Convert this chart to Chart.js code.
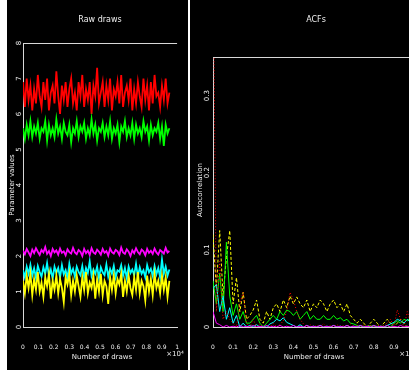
<!DOCTYPE html>
<html>
<head>
<meta charset="utf-8">
<script src="https://cdn.jsdelivr.net/npm/chart.js@4"></script>
<style>
  html, body { margin: 0; padding: 0; width: 409px; height: 370px; overflow: hidden; background: #fff; }
  .panel { position: absolute; top: 0; height: 370px; background: #000; overflow: hidden; }
  #leftPanel { left: 7px; width: 181px; }
  #rightPanel { left: 190px; width: 219px; }
  canvas { position: absolute; top: 0; left: 0; }
</style>
</head>
<body>
<div class="panel" id="leftPanel"><canvas id="drawsChart" width="181" height="370"></canvas></div>
<div class="panel" id="rightPanel"><canvas id="acfChart" width="240" height="370"></canvas></div>
<script>
// tick labels
const xTicks = [0, 0.1, 0.2, 0.3, 0.4, 0.5, 0.6, 0.7, 0.8, 0.9, 1];
const leftYTicks = [0, 1, 2, 3, 4, 5, 6, 7, 8];
const rightYTicks = [0, 0.1, 0.2, 0.3];

// raw draws (x in units of 10^4 draws)
const drawsEnd = 0.95;
const redDraws = [6.9,6.2,7.0,6.4,6.8,6.1,6.7,6.3,7.1,6.5,6.2,6.9,6.4,7.0,6.1,6.6,6.8,6.3,7.2,6.5,6.0,6.8,6.4,6.9,6.2,6.7,7.0,6.3,6.6,6.1,6.9,6.5,7.1,6.2,6.7,6.4,6.9,6.0,6.8,6.5,7.3,6.3,6.6,6.9,6.2,6.8,6.4,7.0,6.1,6.7,6.5,6.9,6.3,7.1,6.2,6.6,6.8,6.4,7.0,6.1,6.7,6.3,6.9,6.5,6.2,7.0,6.4,6.8,6.1,6.9,6.3,7.1,6.5,6.6,6.2,6.8,6.4,7.0,6.3,6.6];
const greenDraws = [5.6,5.3,5.7,5.4,5.8,5.35,5.65,5.45,5.75,5.3,5.6,5.5,5.8,5.25,5.7,5.4,5.6,5.35,5.85,5.45,5.65,5.3,5.75,5.5,5.4,5.7,5.2,5.6,5.45,5.8,5.35,5.65,5.5,5.75,5.3,5.6,5.4,5.85,5.45,5.7,5.25,5.6,5.5,5.75,5.35,5.65,5.4,5.8,5.3,5.6,5.45,5.7,5.2,5.65,5.5,5.8,5.35,5.6,5.4,5.75,5.3,5.7,5.45,5.6,5.35,5.8,5.5,5.65,5.25,5.7,5.4,5.6,5.5,5.75,5.3,5.65,5.1,5.7,5.45,5.6];
const magentaDraws = [2.15,2.05,2.2,2.1,2.0,2.18,2.08,2.22,2.12,2.03,2.17,2.1,2.25,2.06,2.14,2.0,2.2,2.1,2.16,2.04,2.21,2.09,2.13,2.02,2.19,2.11,2.07,2.23,2.1,2.05,2.17,2.12,2.0,2.2,2.08,2.15,2.03,2.22,2.1,2.06,2.18,2.12,2.04,2.2,2.09,2.14,2.01,2.21,2.11,2.07,2.17,2.13,2.03,2.24,2.1,2.06,2.19,2.12,2.0,2.16,2.08,2.22,2.11,2.05,2.18,2.13,2.02,2.2,2.09,2.15,2.06,2.21,2.1,2.04,2.17,2.12,2.07,2.23,2.1,2.14];
const cyanDraws = [1.6,1.4,1.7,1.5,1.75,1.45,1.65,1.38,1.72,1.55,1.42,1.68,1.5,1.8,1.44,1.62,1.36,1.7,1.52,1.66,1.4,1.74,1.48,1.6,1.38,1.78,1.5,1.64,1.42,1.7,1.55,1.46,1.72,1.4,1.66,1.52,1.85,1.44,1.62,1.5,1.7,1.38,1.68,1.54,1.46,1.76,1.42,1.64,1.5,1.72,1.4,1.6,1.56,1.74,1.44,1.66,1.38,1.7,1.52,1.62,1.46,1.78,1.42,1.68,1.5,1.6,1.4,1.74,1.54,1.64,1.44,1.72,1.48,1.66,1.4,1.9,1.5,1.7,1.45,1.62];
const yellowDraws = [1.3,0.95,1.45,1.1,1.5,0.9,1.35,1.05,1.55,1.0,1.25,0.85,1.4,1.15,1.5,0.8,1.3,1.05,1.45,0.95,1.35,1.1,0.7,1.4,1.2,1.5,0.9,1.3,1.0,1.45,1.15,0.85,1.4,1.05,1.55,0.95,1.25,1.1,1.45,0.8,1.35,1.0,1.5,0.9,1.3,1.15,0.65,1.4,1.05,1.45,0.95,1.35,1.2,1.5,0.85,1.3,1.0,1.45,1.1,0.9,1.4,1.05,1.55,0.95,1.3,1.15,0.75,1.45,1.0,1.35,0.9,1.5,1.1,1.3,0.95,1.45,1.05,1.4,0.85,1.3];

// autocorrelations (lag in units of 10^4)
const lagEnd = 1;
const redAcf = [0.5,0.02,0.085,0.01,0.02,0.01,0.005,0.0,0.03,0.045,0.005,0.0,0.01,0.0,0.004,0.0,0.002,0.0,0.005,0.0,0.003,0.008,0.02,0.045,0.035,0.02,0.01,0.004,0.0,0.003,0.0,0.002,0.0,0.004,0.0,0.002,0.0,0.003,0.0,0.002,0.0,0.004,0.0,0.002,0.0,0.003,0.0,0.002,0.0,0.003,0.0,0.002,0.005,0.01,0.0,0.022,0.01,0.0,0.02,0.005,0.0];
const yellowAcf = [0.12,0.05,0.125,0.04,0.09,0.125,0.03,0.064,0.02,0.045,0.01,0.015,0.022,0.035,0.01,0.005,0.02,0.01,0.025,0.03,0.02,0.035,0.025,0.04,0.03,0.039,0.03,0.025,0.035,0.02,0.03,0.025,0.035,0.03,0.02,0.03,0.035,0.025,0.03,0.02,0.03,0.015,0.01,0.005,0.01,0.005,0.0,0.005,0.01,0.005,0.0,0.005,0.01,0.005,0.0,0.005,0.01,0.005,0.0,0.005,0.0];
const greenAcf = [0.06,0.03,0.07,0.02,0.11,0.04,0.015,0.03,0.01,0.02,0.005,0.005,0.01,0.015,0.005,0.0,0.005,0.01,0.015,0.01,0.02,0.015,0.022,0.02,0.015,0.02,0.01,0.015,0.02,0.01,0.015,0.01,0.01,0.015,0.01,0.01,0.015,0.01,0.012,0.008,0.01,0.005,0.004,0.002,0.0,0.001,0.0,0.002,0.0,0.001,0.0,0.0,0.002,0.0,0.005,0.008,0.005,0.01,0.008,0.012,0.01];
const cyanAcf = [0.05,0.055,0.02,0.04,0.01,0.025,0.005,0.015,0.0,0.005,0.0,0.002,0.0,0.003,0.0,0.001,0.0,0.004,0.006,0.01,0.008,0.012,0.006,0.004,0.002,0.0,0.003,0.0,0.002,0.0,0.001,0.0,0.002,0.0,0.001,0.0,0.002,0.0,0.001,0.0,0.002,0.0,0.001,0.0,0.002,0.0,0.001,0.0,0.002,0.0,0.001,0.0,0.002,0.004,0.006,0.01,0.008,0.005,0.01,0.006,0.004];
const magentaAcf = [0.02,0.005,0.003,0.0,0.002,0.0,0.001,0.0,0.002,0.0,0.001,0.0,0.002,0.0,0.001,0.0,0.002,0.0,0.001,0.0,0.002,0.0,0.001,0.0,0.002,0.0,0.001,0.0,0.002,0.0,0.001,0.0,0.002,0.0,0.001,0.0,0.002,0.0,0.001,0.0,0.002,0.0,0.001,0.0,0.002,0.0,0.001,0.0,0.002,0.0,0.001,0.0,0.002,0.0,0.001,0.0,0.002,0.0,0.001,0.0,0.002];

function toPoints(values, end) {
    return values.map((v, i) => ({ x: i * end / (values.length - 1), y: v }));
}

// cadre, titres et libellés tournés
const framePlugin = {
    id: 'frame',
    afterDraw(chart, args, o) {
        const ctx = chart.ctx;
        const a = chart.chartArea;
        const yScale = chart.scales.y;
        ctx.save();
        ctx.strokeStyle = '#d8d8d8';
        ctx.lineWidth = 1;
        ctx.beginPath();
        ctx.moveTo(a.left, Math.round(a.top) + 0.5);
        ctx.lineTo(a.right, Math.round(a.top) + 0.5);
        ctx.stroke();

        ctx.fillStyle = '#eee';
        ctx.textAlign = 'center';
        ctx.textBaseline = 'middle';
        ctx.font = '8px "DejaVu Sans"';
        ctx.fillText(o.title, o.titleX, 20);

        ctx.font = '7px "DejaVu Sans"';
        ctx.fillText('Number of draws', o.xTitleX, 357);
        ctx.fillText('\u00d710\u2074', o.expX, 354);

        yScale.ticks.forEach(t => {
            const y = yScale.getPixelForValue(t.value);
            ctx.save();
            ctx.translate(o.yLabelX, y);
            ctx.rotate(-Math.PI / 2);
            ctx.fillText(String(t.value), 0, 0);
            ctx.restore();
        });

        ctx.save();
        ctx.translate(o.yTitleX, o.yTitleY);
        ctx.rotate(-Math.PI / 2);
        ctx.fillText(o.yTitle, 0, 0);
        ctx.restore();
        ctx.restore();
    }
};

function makeOptions(yMax, yTicks, yWidth, padRight, padTop, lineWidth, frame) {
    return {
        responsive: false,
        animation: false,
        layout: { padding: { top: padTop, right: padRight, left: 0, bottom: 0 } },
        elements: { point: { radius: 0 }, line: { borderWidth: lineWidth, tension: 0 } },
        plugins: { legend: { display: false }, tooltip: { enabled: false }, frame: frame },
        scales: {
            x: {
                type: 'linear',
                min: 0,
                max: 1,
                afterBuildTicks: s => { s.ticks = xTicks.map(v => ({ value: v })); },
                afterFit: s => { s.height = 43; },
                ticks: { color: '#eee', font: { size: 6, family: 'DejaVu Sans' }, padding: 9, maxRotation: 0, autoSkip: false, callback: v => String(+v.toFixed(1)) },
                grid: { display: false },
                border: { color: '#d8d8d8' }
            },
            y: {
                min: 0,
                max: yMax,
                afterBuildTicks: s => { s.ticks = yTicks.map(v => ({ value: v })); },
                afterFit: s => { s.width = yWidth; },
                ticks: { display: false },
                grid: { display: false },
                border: { color: '#d8d8d8' }
            }
        }
    };
}

new Chart(document.getElementById('drawsChart'), {
    type: 'line',
    plugins: [framePlugin],
    data: {
        datasets: [
            { data: toPoints(magentaDraws, drawsEnd), borderColor: '#ff00ff' },
            { data: toPoints(yellowDraws, drawsEnd), borderColor: '#ffff00' },
            { data: toPoints(cyanDraws, drawsEnd), borderColor: '#00ffff' },
            { data: toPoints(greenDraws, drawsEnd), borderColor: '#00ff00' },
            { data: toPoints(redDraws, drawsEnd), borderColor: '#ff0000' }
        ]
    },
    options: makeOptions(8, leftYTicks, 16, 8, 43, 1.8, {
        title: 'Raw draws', titleX: 93, xTitleX: 95, expX: 168,
        yLabelX: 12, yTitle: 'Parameter values', yTitleX: 5, yTitleY: 185
    })
});

new Chart(document.getElementById('acfChart'), {
    type: 'line',
    plugins: [framePlugin],
    data: {
        datasets: [
            { data: toPoints(magentaAcf, lagEnd), borderColor: '#ff00ff' },
            { data: toPoints(redAcf, lagEnd), borderColor: '#ff0000', borderDash: [1, 2] },
            { data: toPoints(cyanAcf, lagEnd), borderColor: '#00ffff' },
            { data: toPoints(greenAcf, lagEnd), borderColor: '#00ff00' },
            { data: toPoints(yellowAcf, lagEnd), borderColor: '#ffff00', borderDash: [3, 2] }
        ]
    },
    options: makeOptions(0.35, rightYTicks, 23, 16, 57, 1, {
        title: 'ACFs', titleX: 126, xTitleX: 124, expX: 218,
        yLabelX: 17, yTitle: 'Autocorrelation', yTitleX: 10, yTitleY: 190
    })
});
</script>
</body>
</html>
